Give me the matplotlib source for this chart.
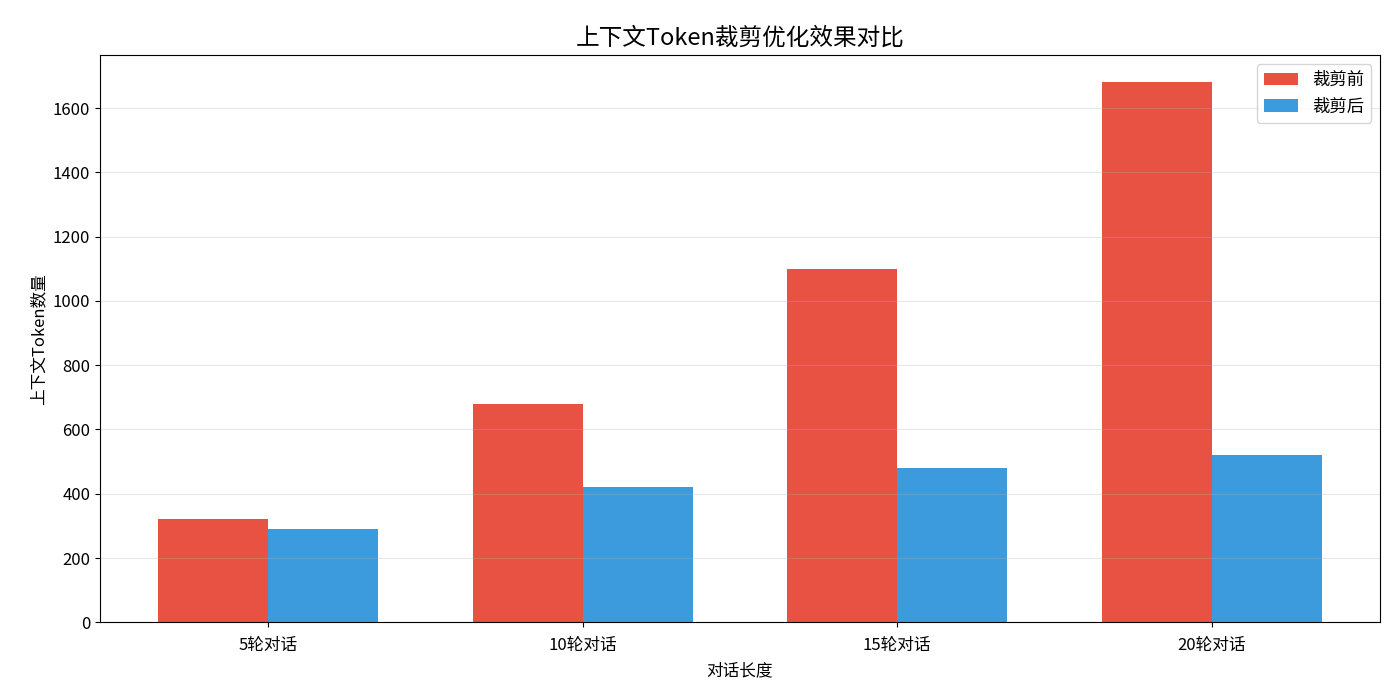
import numpy as np
import matplotlib.pyplot as plt

plt.rcParams['font.family'] = ['Noto Sans CJK SC', 'DejaVu Sans']
plt.rcParams['axes.unicode_minus'] = False

# 数据
categories = ['5轮对话', '10轮对话', '15轮对话', '20轮对话']
before = [320, 680, 1100, 1680]
after = [290, 420, 480, 520]

x = np.arange(len(categories))
width = 0.35

fig, ax = plt.subplots(figsize=(14, 7), dpi=100)
ax.bar(x - width / 2, before, width, label='裁剪前', color='#e74c3c', alpha=0.97)
ax.bar(x + width / 2, after, width, label='裁剪后', color='#3498db', alpha=0.97)

ax.set_title('上下文Token裁剪优化效果对比', fontsize=17, fontweight='medium', pad=8)
ax.set_xlabel('对话长度', fontsize=12, labelpad=6)
ax.set_ylabel('上下文Token数量', fontsize=12)
ax.set_xticks(x)
ax.set_xticklabels(categories, fontsize=12)
ax.tick_params(axis='x', pad=7)
ax.tick_params(axis='y', labelsize=12)
ax.set_ylim(0, max(before) * 1.05)
ax.grid(axis='y', alpha=0.3)
ax.legend(fontsize=12.5)

fig.subplots_adjust(left=0.0714, right=0.9857, top=0.921, bottom=0.111)
plt.savefig('out.png')
